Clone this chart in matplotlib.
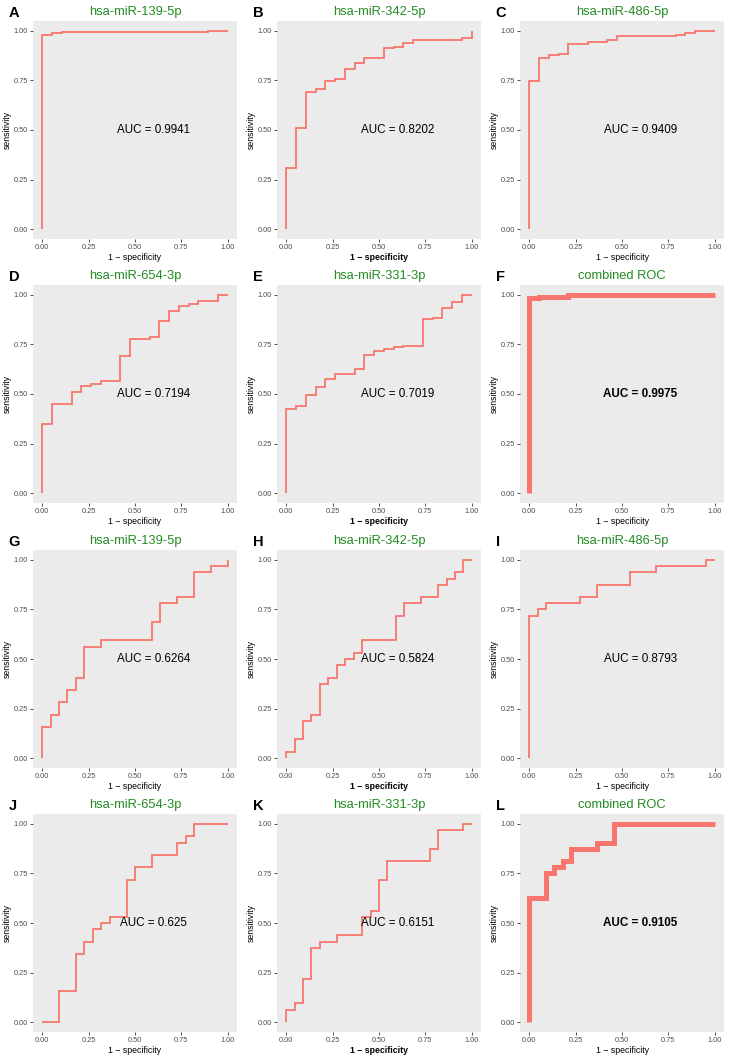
import matplotlib
matplotlib.use("Agg")
import matplotlib.pyplot as plt

plt.rcParams["font.family"] = ["Liberation Sans", "DejaVu Sans"]

# panel letters, titles and AUC labels
letters = list("ABCDEFGHIJKL")
titles = [
    "hsa-miR-139-5p", "hsa-miR-342-5p", "hsa-miR-486-5p",
    "hsa-miR-654-3p", "hsa-miR-331-3p", "combined ROC",
    "hsa-miR-139-5p", "hsa-miR-342-5p", "hsa-miR-486-5p",
    "hsa-miR-654-3p", "hsa-miR-331-3p", "combined ROC",
]
auc_text = [
    "AUC = 0.9941", "AUC = 0.8202", "AUC = 0.9409",
    "AUC = 0.7194", "AUC = 0.7019", "AUC = 0.9975",
    "AUC = 0.6264", "AUC = 0.5824", "AUC = 0.8793",
    "AUC = 0.625", "AUC = 0.6151", "AUC = 0.9105",
]

# ROC corners: (1 - specificity, sensitivity) after each rise
fpr_A = [0, 0, 0.053, 0.105, 0.895, 1.0]
tpr_A = [0, 0.978, 0.988, 0.995, 1.0, 1.0]
fpr_B = [0, 0, 0.053, 0.105, 0.158, 0.211, 0.263, 0.316, 0.368, 0.421,
         0.526, 0.579, 0.632, 0.684, 0.947, 1.0]
tpr_B = [0, 0.31, 0.51, 0.69, 0.705, 0.745, 0.757, 0.81, 0.84, 0.862,
         0.913, 0.92, 0.937, 0.953, 0.963, 1.0]
fpr_C = [0, 0, 0.053, 0.105, 0.158, 0.211, 0.316, 0.421, 0.474, 0.789,
         0.842, 0.895, 1.0]
tpr_C = [0, 0.745, 0.864, 0.877, 0.884, 0.933, 0.946, 0.953, 0.975, 0.98,
         0.989, 1.0, 1.0]
fpr_D = [0, 0, 0.053, 0.158, 0.211, 0.263, 0.316, 0.421, 0.474, 0.579,
         0.632, 0.684, 0.737, 0.789, 0.842, 0.947, 1.0]
tpr_D = [0, 0.351, 0.45, 0.51, 0.54, 0.55, 0.565, 0.69, 0.777, 0.79,
         0.87, 0.92, 0.946, 0.955, 0.97, 1.0, 1.0]
fpr_E = [0, 0, 0.053, 0.105, 0.158, 0.211, 0.263, 0.368, 0.421, 0.474,
         0.526, 0.579, 0.632, 0.737, 0.789, 0.842, 0.895, 0.947, 1.0]
tpr_E = [0, 0.426, 0.438, 0.497, 0.535, 0.575, 0.60, 0.627, 0.695, 0.716,
         0.727, 0.737, 0.742, 0.88, 0.884, 0.935, 0.965, 1.0, 1.0]
fpr_F = [0, 0, 0.053, 0.211, 1.0]
tpr_F = [0, 0.985, 0.99, 1.0, 1.0]
fpr_G = [0, 0, 0.045, 0.091, 0.136, 0.182, 0.227, 0.318, 0.591, 0.636,
         0.727, 0.818, 0.909, 1.0]
tpr_G = [0, 0.156, 0.219, 0.281, 0.344, 0.406, 0.5625, 0.594, 0.6875, 0.781,
         0.8125, 0.9375, 0.969, 1.0]
fpr_H = [0, 0, 0.045, 0.091, 0.136, 0.182, 0.227, 0.273, 0.318, 0.364,
         0.409, 0.591, 0.636, 0.727, 0.818, 0.864, 0.909, 0.955, 1.0]
tpr_H = [0, 0.031, 0.094, 0.1875, 0.219, 0.375, 0.406, 0.469, 0.5, 0.531,
         0.594, 0.719, 0.781, 0.8125, 0.875, 0.906, 0.9375, 1.0, 1.0]
fpr_I = [0, 0, 0.045, 0.091, 0.273, 0.364, 0.545, 0.682, 0.955, 1.0]
tpr_I = [0, 0.719, 0.75, 0.781, 0.8125, 0.875, 0.9375, 0.969, 1.0, 1.0]
fpr_J = [0, 0.091, 0.182, 0.227, 0.273, 0.318, 0.364, 0.455, 0.5, 0.591,
         0.727, 0.773, 0.818, 1.0]
tpr_J = [0, 0.156, 0.344, 0.406, 0.469, 0.5, 0.531, 0.719, 0.781, 0.844,
         0.906, 0.9375, 1.0, 1.0]
fpr_K = [0, 0, 0.045, 0.091, 0.136, 0.182, 0.273, 0.409, 0.455, 0.5,
         0.545, 0.773, 0.818, 0.955, 1.0]
tpr_K = [0, 0.0625, 0.094, 0.219, 0.375, 0.406, 0.4375, 0.531, 0.5625, 0.719,
         0.8125, 0.875, 0.969, 1.0, 1.0]
fpr_L = [0, 0, 0.091, 0.136, 0.182, 0.227, 0.364, 0.455, 1.0]
tpr_L = [0, 0.625, 0.75, 0.781, 0.8125, 0.875, 0.906, 1.0, 1.0]

fprs = [fpr_A, fpr_B, fpr_C, fpr_D, fpr_E, fpr_F,
        fpr_G, fpr_H, fpr_I, fpr_J, fpr_K, fpr_L]
tprs = [tpr_A, tpr_B, tpr_C, tpr_D, tpr_E, tpr_F,
        tpr_G, tpr_H, tpr_I, tpr_J, tpr_K, tpr_L]
combined = [False] * 5 + [True] + [False] * 5 + [True]

ticks = [0, 0.25, 0.5, 0.75, 1.0]
tick_labels = ["0.00", "0.25", "0.50", "0.75", "1.00"]

W, H = 733, 1062
col_left = [33, 277, 520]
row_top = [21, 285, 550, 814]
ax_w, ax_h = 204, 218

fig = plt.figure(figsize=(W / 100, H / 100), dpi=100)
fig.patch.set_facecolor("white")

for i in range(12):
    r, c = divmod(i, 3)
    ax = fig.add_axes([col_left[c] / W, 1 - (row_top[r] + ax_h) / H, ax_w / W, ax_h / H])
    ax.set_facecolor("#EBEBEB")
    for s in ax.spines.values():
        s.set_visible(False)
    lw = 3.6 if combined[i] else 1.3
    ax.step(fprs[i], tprs[i], where="post", color="#F8766D", lw=lw,
            solid_joinstyle="miter", solid_capstyle="butt")
    ax.set_xlim(-0.05, 1.05)
    ax.set_ylim(-0.05, 1.05)
    ax.set_xticks(ticks)
    ax.set_yticks(ticks)
    ax.set_xticklabels(tick_labels)
    ax.set_yticklabels(tick_labels)
    ax.tick_params(labelsize=5.3, labelcolor="#4D4D4D", color="#333333",
                   length=2.2, width=0.6, pad=1.5)
    wt = "bold" if c == 1 else "normal"
    ax.set_xlabel("1 \u2212 specificity", fontsize=6.3, labelpad=1.5, fontweight=wt)
    ax.set_ylabel("sensitivity", fontsize=6.3, labelpad=1)
    ax.set_title(titles[i], color="#228B22", fontsize=9.3, pad=4)
    ax.text(0.6, 0.5, auc_text[i], ha="center", va="center", fontsize=8.4,
            fontweight="bold" if combined[i] else "normal")
    ax.text(-0.12, 1.02, letters[i], transform=ax.transAxes, ha="left",
            va="baseline", fontsize=10.5, fontweight="bold")

fig.savefig("out.png", dpi=100)
